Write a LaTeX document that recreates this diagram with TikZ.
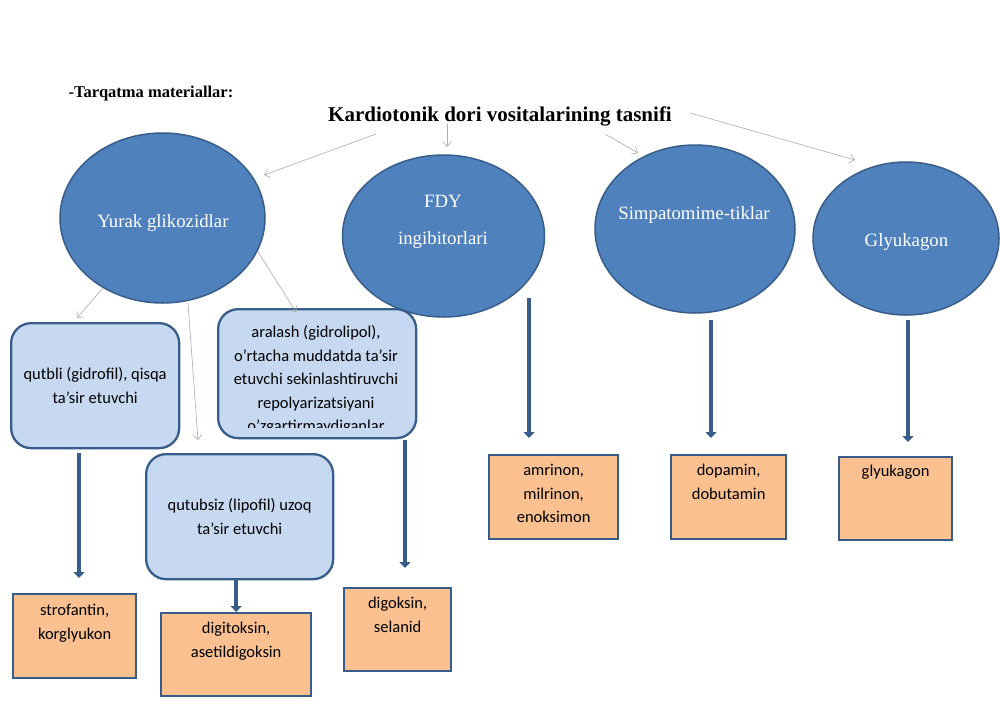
\documentclass[tikz,border=0pt]{standalone}
\usepackage{fontspec}
\setmainfont{Liberation Serif}
\newfontfamily\boxfont{Carlito}
\usepackage{tikz}
\usetikzlibrary{positioning}
\usetikzlibrary{shapes.geometric}
\usetikzlibrary{arrows.meta}
\definecolor{ovalblue}{HTML}{4F81BD}
\definecolor{edgeblue}{HTML}{385D8A}
\definecolor{paleblue}{HTML}{C6D9F1}
\definecolor{peach}{HTML}{FAC090}
\tikzset{
  oval/.style={ellipse,draw=edgeblue,fill=ovalblue,line width=1.5pt,inner sep=0pt},
  ovaltext/.style={text=white,font=\fontsize{18.8}{22}\selectfont,align=center,inner sep=0pt},
  groupbox/.style={draw=edgeblue,fill=paleblue,rounded corners=20pt,line width=2.3pt,anchor=north west},
  drugbox/.style={draw=edgeblue,fill=peach,line width=2.3pt,anchor=north west},
  boxtext/.style={font=\boxfont\fontsize{16.5}{23.5}\selectfont,align=center,inner sep=0pt},
  pointer/.style={draw=gray!65,line width=0.6pt,-{Straight Barb[length=5pt,width=9pt]}},
  bigarrow/.style={draw=edgeblue,line width=4.5pt,-{Triangle[length=6pt,width=11pt]}}
}
\begin{document}
\begin{tikzpicture}[x=1pt,y=-1pt,node distance=8pt]
  \useasboundingbox[fill=white] (0,0) rectangle (1000,707);

  % headings
  \node[font=\bfseries\fontsize{16.5}{19}\selectfont] (handout) at (151,94) {-Tarqatma materiallar:};
  \node[font=\bfseries\fontsize{21}{25}\selectfont] (title) at (500,116) {Kardiotonik dori vositalarining tasnifi};

  % the four groups
  \node[oval,minimum width=205,minimum height=170] (yurak) at (162.5,218) {};
  \node[oval,minimum width=202,minimum height=162] (fdy) at (443.5,236) {};
  \node[oval,minimum width=200,minimum height=168] (simp) at (695,229) {};
  \node[oval,minimum width=186,minimum height=153] (gly) at (906,238.5) {};
  \node[ovaltext] (yuraktxt) at (163,223) {Yurak glikozidlar};
  \node[ovaltext] (fdytxt) at (443,221.5) {FDY\\[15pt]ingibitorlari};
  \node[ovaltext] (simptxt) at (694,215) {Simpatomime-tiklar};
  \node[ovaltext] (glytxt) at (906.5,242) {Glyukagon};

  % glycoside subgroups
  \node[groupbox,minimum width=168,minimum height=125] (qutbli) at (10,322) {};
  \node[boxtext] at (qutbli.center) {qutbli (gidrofil), qisqa\\ta’sir etuvchi};
  \node[groupbox,minimum width=198,minimum height=129] (aralash) at (217,308) {};
  \begin{scope}
    \clip (217,308) rectangle (415,427);
    \node[boxtext] (araltxt) at (316,380) {aralash (gidrolipol),\\o’rtacha muddatda ta’sir\\etuvchi sekinlashtiruvchi\\repolyarizatsiyani\\o’zgartirmaydiganlar};
  \end{scope}
  \node[groupbox,minimum width=187,minimum height=125] (qutubsiz) at (145,453) {};
  \node[boxtext] at (qutubsiz.center) {qutubsiz (lipofil) uzoq\\ta’sir etuvchi};

  % drugs
  \node[drugbox,minimum width=123,minimum height=84] (strof) at (12,593) {};
  \node[drugbox,minimum width=150,minimum height=83] (digit) at (160,612) {};
  \node[drugbox,minimum width=107,minimum height=83] (digok) at (343,587) {};
  \node[drugbox,minimum width=129,minimum height=84] (amrin) at (488,454) {};
  \node[drugbox,minimum width=115,minimum height=84] (dopam) at (670,454) {};
  \node[drugbox,minimum width=113,minimum height=83] (glyuk) at (838,456) {};
  \node[boxtext,below=11pt of strof.north] {strofantin,\\korglyukon};
  \node[boxtext,below=10pt of digit.north] {digitoksin,\\asetildigoksin};
  \node[boxtext,below=10pt of digok.north] {digoksin,\\selanid};
  \node[boxtext,below=10pt of amrin.north] {amrinon,\\milrinon,\\enoksimon};
  \node[boxtext,below=10pt of dopam.north] {dopamin,\\dobutamin};
  \node[boxtext,below=9pt of glyuk.north] {glyukagon};

  % thin arrows
  \foreach \n/\xa/\ya/\xb/\yb in {p1/376/134/264/175, p2/447/124/447/147,
      p3/605/134/638/153, p4/690/113/855/160, p5/103/288/77/318,
      p6/188/303/198/440, p7/258/252/296/312}{
    \coordinate (\n a) at (\xa,\ya);
    \coordinate (\n b) at (\xb,\yb);
    \draw[pointer] (\n a) -- (\n b);
  }

  % thick arrows
  \foreach \n/\x/\ya/\yb in {s1/79/453/578, s2/405/440/568,
      s3/529/298/438, s4/711/320/438, s5/908/320/442}{
    \coordinate (\n a) at (\x,\ya);
    \coordinate (\n b) at (\x,\yb);
    \draw[bigarrow] (\n a) -- (\n b);
  }
  \draw[bigarrow] (qutubsiz.south -| digit.north) -- (digit.north);
\end{tikzpicture}
\end{document}
